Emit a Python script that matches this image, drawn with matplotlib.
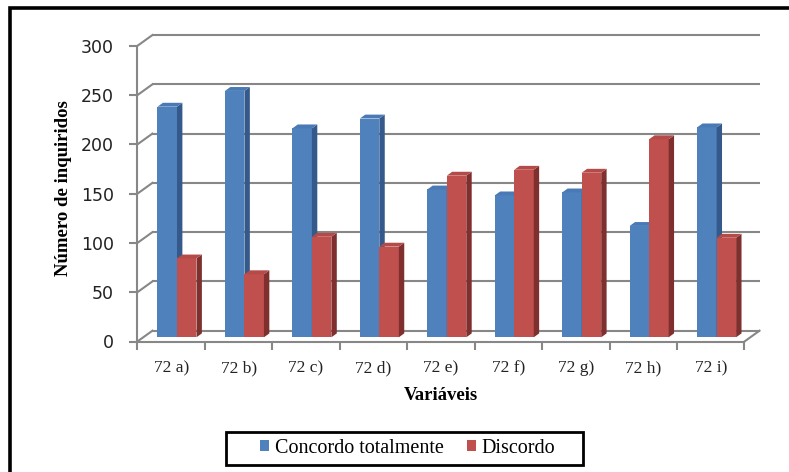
import matplotlib
matplotlib.use("Agg")
import matplotlib.pyplot as plt
import matplotlib.transforms as mtransforms
from matplotlib.patches import Polygon, Rectangle, Patch

# Survey answers per item
categories = ["72 a)", "72 b)", "72 c)", "72 d)", "72 e)", "72 f)", "72 g)", "72 h)", "72 i)"]
concordo = [234, 250, 212, 222, 150, 144, 147, 113, 213]
discordo = [80, 64, 102, 92, 164, 170, 167, 201, 101]
series_names = ["Concordo totalmente", "Discordo"]
yticks = [0, 50, 100, 150, 200, 250, 300]

W, H, DPI = 789, 472, 100
fig = plt.figure(figsize=(W / DPI, H / DPI), dpi=DPI)
fig.patch.set_facecolor("white")

# oblique depth of the 3-D box, in data units
DX = 0.2226   # categories
DY = 10.96    # value units
D0, D1 = 0.39, 0.75   # front / back depth of the columns
BW = 0.289            # column width

n = len(categories)
ymax = yticks[-1]

# axes placed in pixel terms
left_px, right_px = 137.4, 759.5
bottom_px, top_px = 341.5, 35.05
ax_h_px = bottom_px - top_px
ax = fig.add_axes([left_px / W, 1 - bottom_px / H,
                   (right_px - left_px) / W, ax_h_px / H])
ax.set_xlim(0, n + DX)
ax.set_ylim(0, ymax + DY)
ax.patch.set_alpha(0)

grid_c = "#878787"
lw_grid = 1.5

# back wall gridlines and left wall diagonals
for v in yticks:
    ax.plot([DX, n + DX], [v + DY, v + DY], color=grid_c, lw=lw_grid,
            solid_capstyle="butt", zorder=1, clip_on=False)
    ax.plot([0, DX], [v, v + DY], color=grid_c, lw=lw_grid, zorder=1, clip_on=False)
# floor right edge
ax.plot([n, n + DX], [0, DY], color=grid_c, lw=lw_grid, zorder=1, clip_on=False)

# front axes lines
for side in ["top", "right"]:
    ax.spines[side].set_visible(False)
ax.spines["left"].set_bounds(0, ymax)
ax.spines["bottom"].set_bounds(0, n)
for side in ["left", "bottom"]:
    ax.spines[side].set_color(grid_c)
    ax.spines[side].set_linewidth(lw_grid)

ax.set_yticks(yticks)
ax.set_yticklabels([str(v) for v in yticks], fontsize=12.5, family="DejaVu Sans",
                   color="#222222")
ax.tick_params(axis="y", length=6, width=lw_grid, color=grid_c, pad=11)

ax.set_xticks(range(n + 1))
ax.set_xticklabels([""] * (n + 1))
ax.tick_params(axis="x", which="major", length=6, width=lw_grid, color=grid_c)

# category names on a common baseline below the floor
lab_tr = mtransforms.blended_transform_factory(ax.transData, ax.transAxes)
for i, name in enumerate(categories):
    ax.text(i + 0.5, -30.5 / ax_h_px, name, transform=lab_tr, ha="center",
            va="baseline", fontsize=12.5, family="Liberation Serif",
            color="#222222")

faces = {
    "blue": ("#4f81bd", "#34598a", "#4a7ab5"),
    "red": ("#c0504d", "#7f302e", "#b54b48"),
}


def column(x0, v, cols):
    front, side, top = cols
    x1 = x0 + BW
    ax.bar(x0 + D0 * DX, v, width=BW, bottom=D0 * DY, align="edge",
           color=front, edgecolor="none", zorder=3, clip_on=False)
    sx = [x1 + D0 * DX, x1 + D1 * DX, x1 + D1 * DX, x1 + D0 * DX]
    sy = [D0 * DY, D1 * DY, v + D1 * DY, v + D0 * DY]
    ax.add_patch(Polygon(list(zip(sx, sy)), closed=True, facecolor=side,
                         edgecolor="none", zorder=3, clip_on=False))
    tx = [x0 + D0 * DX, x1 + D0 * DX, x1 + D1 * DX, x0 + D1 * DX]
    ty = [v + D0 * DY, v + D0 * DY, v + D1 * DY, v + D1 * DY]
    ax.add_patch(Polygon(list(zip(tx, ty)), closed=True, facecolor=top,
                         edgecolor="none", zorder=3, clip_on=False))


for i in range(n):
    c = i + 0.5
    column(c - BW, concordo[i], faces["blue"])
    column(c, discordo[i], faces["red"])

ax.text((n / 2), -58 / ax_h_px, "Variáveis", transform=lab_tr, ha="center",
        va="baseline", fontsize=13.5, family="Liberation Serif",
        fontweight="bold")
ax.set_ylabel("Número de inquiridos", fontsize=13.5, family="Liberation Serif",
              fontweight="bold", labelpad=6)

handles = [Patch(facecolor=faces["blue"][0], edgecolor="none"),
           Patch(facecolor=faces["red"][0], edgecolor="none")]
leg = fig.legend(handles, series_names, loc="center",
                 bbox_to_anchor=(407.5 / W, 1 - 448.5 / H),
                 ncol=2, frameon=False,
                 prop={"family": "Liberation Serif", "size": 14.5},
                 handlelength=0.45, handleheight=0.45, handletextpad=0.3,
                 columnspacing=1.15, borderpad=0.2)
# legend frame
fig.add_artist(Rectangle((226 / W, 1 - 465 / H), (583 - 226) / W, 33 / H,
                         transform=fig.transFigure, fill=False,
                         edgecolor="black", linewidth=2))

# outer frame of the chart area
fig.add_artist(Rectangle((10 / W, -0.05), 1.1, 1 - 7.5 / H + 0.05,
                         transform=fig.transFigure, fill=False,
                         edgecolor="black", linewidth=2.6))

fig.savefig("out.png", dpi=DPI, facecolor="white")
